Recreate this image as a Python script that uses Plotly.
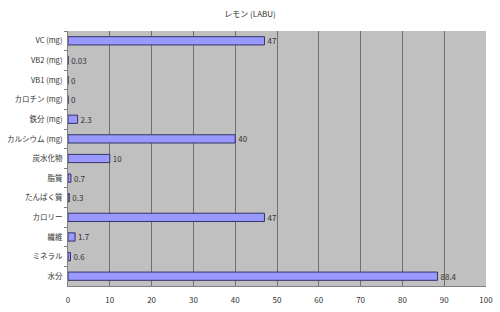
import plotly.graph_objects as go

categories = ["VC (mg)", "VB2 (mg)", "VB1 (mg)", "カロチン (mg)", "鉄分 (mg)", "カルシウム (mg)",
              "炭水化物", "脂質", "たんぱく質", "カロリー", "繊維", "ミネラル", "水分"]
values = [47, 0.03, 0, 0, 2.3, 40, 10, 0.7, 0.3, 47, 1.7, 0.6, 88.4]
labels = ["47", "0.03", "0", "0", "2.3", "40", "10", "0.7", "0.3", "47", "1.7", "0.6", "88.4"]
x_ticks = [0, 10, 20, 30, 40, 50, 60, 70, 80, 90, 100]

font = "Noto Sans CJK JP"

fig = go.Figure(go.Bar(
    y=categories, x=values, orientation="h",
    marker=dict(color="#9999ff", line=dict(color="#333366", width=1)),
    width=0.42,
    text=labels, textposition="outside", cliponaxis=False, constraintext="none",
    textfont=dict(family=font, size=8, color="#333333"),
))

fig.update_layout(
    width=500, height=312,
    margin=dict(l=68, r=14, t=31, b=26),
    paper_bgcolor="white", plot_bgcolor="#c0c0c0",
    title=dict(text="レモン (LABU)", x=0.5, xanchor="center", y=0.955, yanchor="middle",
               font=dict(family=font, size=8, color="#333333")),
    showlegend=False,
)
fig.update_xaxes(range=[0, 100], tickvals=x_ticks, showgrid=True, gridcolor="#707070", gridwidth=1,
                 zeroline=False, tickfont=dict(family=font, size=8, color="#333333"),
                 showline=True, linecolor="#808080", ticks="outside", ticklen=6, tickcolor="white",
                 automargin=False)
fig.update_yaxes(autorange="reversed", categoryorder="array", categoryarray=categories,
                 showgrid=False, tickfont=dict(family=font, size=7.5, color="#333333"),
                 showline=True, linecolor="#808080", ticks="outside", ticklen=3, tickcolor="#808080",
                 tickson="boundaries", ticklabelstandoff=3, automargin=False)

fig.write_html("out.html")
